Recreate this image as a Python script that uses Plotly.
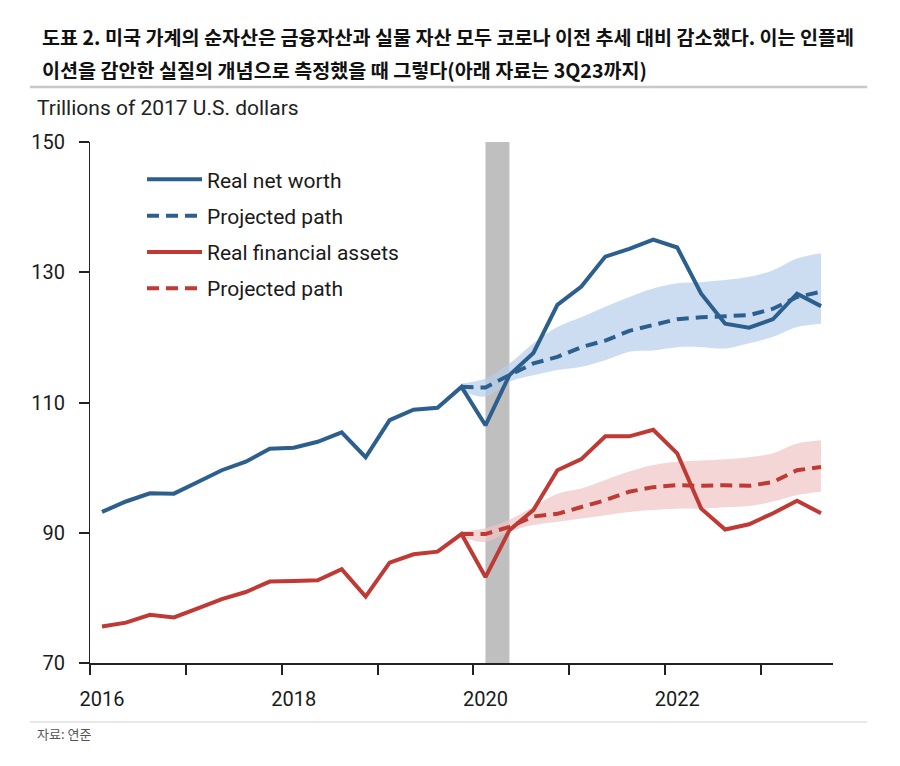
import plotly.graph_objects as go

# Quarterly x positions (mid-quarter, in years)
quarters = [2016 + i * 0.25 + 0.125 for i in range(31)]  # 2016Q1 .. 2023Q3

real_net_worth = [93.2, 94.8, 96.05, 96.0, 97.8, 99.6, 100.9, 102.9,
                  103.05, 103.97, 105.4, 101.6, 107.3, 108.9, 109.2, 112.4,
                  106.5, 114.2, 117.6, 125.0, 127.8, 132.4, 133.6, 135.0,
                  133.8, 126.7, 122.1, 121.5, 122.8, 126.7, 124.8]

real_fin_assets = [75.6, 76.2, 77.4, 77.0, 78.4, 79.8, 80.9, 82.5,
                   82.6, 82.7, 84.4, 80.2, 85.4, 86.7, 87.1, 89.8,
                   83.2, 90.4, 93.5, 99.6, 101.3, 104.8, 104.8, 105.8,
                   102.2, 93.7, 90.5, 91.3, 93.0, 94.9, 93.0]

# Projections start at 2019Q4 (index 15)
proj_x = quarters[15:]
nw_proj = [112.4, 112.3, 114.2, 116.0, 117.0, 118.5, 119.5, 121.0, 121.9,
           122.8, 123.1, 123.3, 123.4, 124.4, 126.2, 127.0]
nw_upper = [112.9, 113.7, 116.0, 119.1, 121.6, 123.1, 124.7, 126.2, 127.5,
            128.3, 128.5, 128.8, 129.3, 130.3, 132.1, 132.9]
nw_lower = [111.8, 110.9, 113.2, 114.2, 115.0, 115.5, 116.5, 117.8, 118.0,
            118.5, 118.5, 118.3, 119.1, 120.1, 121.6, 122.1]

fa_proj = [89.8, 89.8, 90.9, 92.5, 92.9, 94.0, 95.0, 96.3, 97.0,
           97.3, 97.2, 97.3, 97.2, 97.8, 99.6, 100.1]
fa_upper = [90.2, 90.7, 92.0, 94.0, 96.0, 96.8, 98.1, 99.4, 100.4,
            100.9, 101.1, 101.3, 101.6, 102.2, 103.7, 104.2]
fa_lower = [89.4, 88.6, 90.2, 91.2, 91.7, 92.2, 92.7, 93.2, 93.5,
            93.7, 93.7, 93.9, 94.1, 94.8, 95.8, 96.3]

recession = [2020.125, 2020.375]
year_ticks = [2016, 2017, 2018, 2019, 2020, 2021, 2022, 2023]
year_labels = ["2016", "", "2018", "", "2020", "", "2022", ""]
y_ticks = [70, 90, 110, 130, 150]

BLUE = "#2d5f8e"
RED = "#bf3a35"
BLUE_BAND = "rgba(183,206,236,0.7)"
RED_BAND = "rgba(240,196,196,0.7)"
FONT = "Liberation Sans Narrow, Arial Narrow, Roboto, sans-serif"

fig = go.Figure()

# bands
fig.add_trace(go.Scatter(x=proj_x, y=nw_upper, mode="lines", line=dict(width=0, shape="spline"),
                         showlegend=False, hoverinfo="skip"))
fig.add_trace(go.Scatter(x=proj_x, y=nw_lower, mode="lines", line=dict(width=0, shape="spline"),
                         fill="tonexty", fillcolor=BLUE_BAND, showlegend=False, hoverinfo="skip"))
fig.add_trace(go.Scatter(x=proj_x, y=fa_upper, mode="lines", line=dict(width=0, shape="spline"),
                         showlegend=False, hoverinfo="skip"))
fig.add_trace(go.Scatter(x=proj_x, y=fa_lower, mode="lines", line=dict(width=0, shape="spline"),
                         fill="tonexty", fillcolor=RED_BAND, showlegend=False, hoverinfo="skip"))

fig.add_trace(go.Scatter(x=quarters, y=real_net_worth, mode="lines", name="Real net worth",
                         legendgroup="a", line=dict(color=BLUE, width=4)))
fig.add_trace(go.Scatter(x=proj_x, y=nw_proj, mode="lines", name="Projected path",
                         legendgroup="b", line=dict(color=BLUE, width=4, dash="12px,7px")))
fig.add_trace(go.Scatter(x=quarters, y=real_fin_assets, mode="lines", name="Real financial assets",
                         legendgroup="c", line=dict(color=RED, width=4)))
fig.add_trace(go.Scatter(x=proj_x, y=fa_proj, mode="lines", name="Projected path",
                         legendgroup="d", line=dict(color=RED, width=4, dash="12px,7px")))

# recession band
fig.add_shape(type="rect", xref="x", yref="paper", x0=recession[0], x1=recession[1],
              y0=0, y1=1, fillcolor="#bfbfbf", line=dict(width=0), layer="below")

fig.update_layout(
    width=892, height=758,
    margin=dict(l=82, r=67, t=134, b=103),
    paper_bgcolor="white", plot_bgcolor="white",
    font=dict(family=FONT, size=19, color="#1a1a1a"),
    showlegend=True,
    legend=dict(x=0.07, y=0.967, xanchor="left", yanchor="top",
                bgcolor="rgba(0,0,0,0)", font=dict(size=21, family=FONT),
                traceorder="grouped", tracegroupgap=6, itemwidth=55),
    xaxis=dict(range=[2016, 2023.75], tickmode="array", tickvals=year_ticks,
               ticktext=year_labels, ticks="outside", ticklen=10, tickwidth=1.5,
               tickcolor="#222", showline=True, linecolor="#222", linewidth=1.5,
               showgrid=False, zeroline=False, ticklabelshift=12,
               ticklabelstandoff=7, tickfont=dict(size=20, family=FONT)),
    yaxis=dict(range=[70, 150], tickmode="array", tickvals=y_ticks,
               ticks="outside", ticklen=10, tickwidth=1.5, tickcolor="#222",
               showline=True, linecolor="#222", linewidth=1.2,
               showgrid=False, zeroline=False, ticklabelstandoff=10,
               tickfont=dict(size=20, family=FONT)),
)

fig.add_annotation(xref="paper", yref="paper", x=-0.067, y=1.0 + (142 - 37) / 521,
                   xanchor="left", yanchor="middle", showarrow=False,
                   text="<b>도표 2. 미국 가계의 순자산은 금융자산과 실물 자산 모두 코로나 이전 추세 대비 감소했다. 이는 인플레</b>",
                   font=dict(family="Noto Sans CJK KR", size=19.6, color="#111"))
fig.add_annotation(xref="paper", yref="paper", x=-0.067, y=1.0 + (142 - 70) / 521,
                   xanchor="left", yanchor="middle", showarrow=False,
                   text="<b>이션을 감안한 실질의 개념으로 측정했을 때 그렇다(아래 자료는 3Q23까지)</b>",
                   font=dict(family="Noto Sans CJK KR", size=19.6, color="#111"))
fig.add_shape(type="line", xref="paper", yref="paper", x0=-0.081, x1=1.046,
              y0=1.0 + (142 - 87) / 521, y1=1.0 + (142 - 87) / 521,
              line=dict(color="#c8c8c8", width=2.5))
fig.add_annotation(xref="paper", yref="paper", x=-0.074, y=1.0 + (142 - 108) / 521,
                   xanchor="left", yanchor="middle", showarrow=False,
                   text="Trillions of 2017 U.S. dollars",
                   font=dict(family=FONT, size=21, color="#222"))
fig.add_shape(type="line", xref="paper", yref="paper", x0=-0.081, x1=1.046,
              y0=-(722 - 663) / 521, y1=-(722 - 663) / 521,
              line=dict(color="#e0e0e0", width=1.5))
fig.add_annotation(xref="paper", yref="paper", x=-0.074, y=-(733 - 663) / 521,
                   xanchor="left", yanchor="middle", showarrow=False,
                   text="자료: 연준",
                   font=dict(family="Noto Sans CJK KR", size=13, color="#555"))

fig.write_html("out.html")
